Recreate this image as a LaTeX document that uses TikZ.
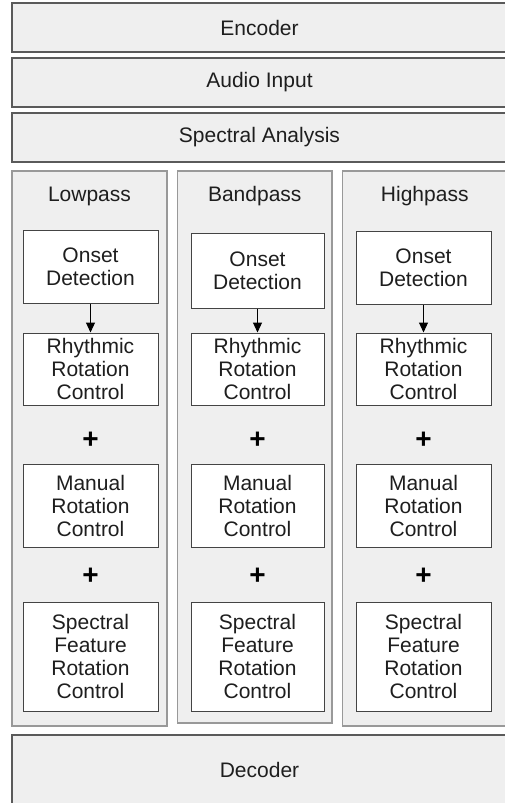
\documentclass[tikz,border=0pt]{standalone}
\usepackage{fontspec}
\setmainfont{Liberation Sans}
\usetikzlibrary{arrows.meta}
\definecolor{panelfill}{HTML}{EFEFEF}
\definecolor{bardraw}{HTML}{5A5A5A}
\definecolor{paneldraw}{HTML}{999999}
\definecolor{innerdraw}{HTML}{444444}
\definecolor{txt}{HTML}{1E1E1E}
\tikzset{
  bar/.style={draw=bardraw, line width=1.3pt, fill=panelfill, inner sep=0pt, text=txt},
  panel/.style={draw=paneldraw, line width=1.3pt, fill=panelfill, inner sep=0pt},
  inner/.style={draw=innerdraw, line width=1pt, fill=white, inner sep=0pt, align=center, text=txt},
  lbl/.style={text=txt, inner sep=0pt},
  plus/.style={text=black, inner sep=0pt, font=\fontsize{28}{28}\selectfont\bfseries},
  arr/.style={line width=1.1pt, -{Triangle[width=9pt,length=10pt]}}
}
\begin{document}
\begin{tikzpicture}[x=1pt,y=-1pt, font=\fontsize{21}{23}\selectfont]
\useasboundingbox (0,0) rectangle (505,803);
\clip (0,0) rectangle (505,803);
% top bars
\node[bar, minimum width=495pt, minimum height=49pt] (enc) at (259.5,27.5) {Encoder};
\node[bar, minimum width=495pt, minimum height=49pt] (aud) at (259.5,82.5) {Audio Input};
\node[bar, minimum width=495pt, minimum height=49pt] (spa) at (259.5,137.5) {Spectral Analysis};
% panels
\node[panel, minimum width=155pt, minimum height=555pt] (pl) at (89.5,448.5) {};
\node[panel, minimum width=154.5pt, minimum height=552pt] (pb) at (254.75,447) {};
\node[panel, minimum width=164.5pt, minimum height=555pt] (ph) at (424.75,448.5) {};
\node[lbl] (ll) at (89.5,196) {Lowpass};
\node[lbl] (lb) at (254.75,196) {Bandpass};
\node[lbl] (lh) at (424.75,196) {Highpass};
% decoder
\node[bar, minimum width=495pt, minimum height=70pt] (dec) at (259.5,770) {Decoder};
% Lowpass column
\node[inner, minimum width=135pt, minimum height=73pt] (lo1) at (90.5,266.5) {Onset\\Detection};
\node[inner, minimum width=135pt, minimum height=72pt] (lo2) at (90.5,369) {Rhythmic\\Rotation\\Control};
\node[plus] (lp1) at (90.5,440) {+};
\node[inner, minimum width=135pt, minimum height=83pt] (lo3) at (90.5,505.5) {Manual\\Rotation\\Control};
\node[plus] (lp2) at (90.5,576) {+};
\node[inner, minimum width=135pt, minimum height=109pt] (lo4) at (90.5,656.5) {Spectral\\Feature\\Rotation\\Control};
\draw[arr] (lo1.south) -- (lo2.north);
% Bandpass column
\node[inner, minimum width=133pt, minimum height=75pt] (bo1) at (257.5,270.5) {Onset\\Detection};
\node[inner, minimum width=133pt, minimum height=72pt] (bo2) at (257.5,369) {Rhythmic\\Rotation\\Control};
\node[plus] (bp1) at (257.5,440) {+};
\node[inner, minimum width=133pt, minimum height=83pt] (bo3) at (257.5,505.5) {Manual\\Rotation\\Control};
\node[plus] (bp2) at (257.5,576) {+};
\node[inner, minimum width=133pt, minimum height=109pt] (bo4) at (257.5,656.5) {Spectral\\Feature\\Rotation\\Control};
\draw[arr] (bo1.south) -- (bo2.north);
% Highpass column
\node[inner, minimum width=135pt, minimum height=73pt] (ho1) at (423.5,267.5) {Onset\\Detection};
\node[inner, minimum width=135pt, minimum height=72pt] (ho2) at (423.5,369) {Rhythmic\\Rotation\\Control};
\node[plus] (hp1) at (423.5,440) {+};
\node[inner, minimum width=135pt, minimum height=83pt] (ho3) at (423.5,505.5) {Manual\\Rotation\\Control};
\node[plus] (hp2) at (423.5,576) {+};
\node[inner, minimum width=135pt, minimum height=109pt] (ho4) at (423.5,656.5) {Spectral\\Feature\\Rotation\\Control};
\draw[arr] (ho1.south) -- (ho2.north);
\end{tikzpicture}
\end{document}
